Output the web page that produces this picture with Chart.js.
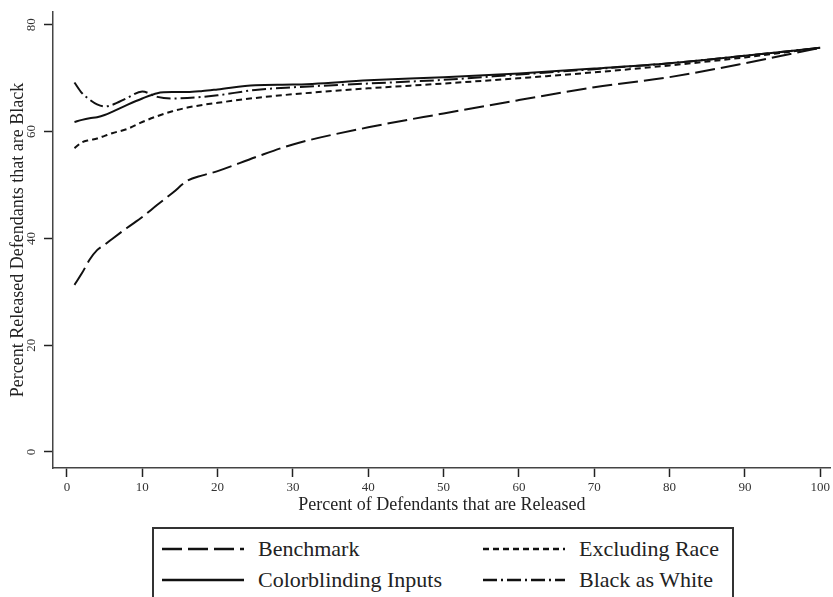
<!DOCTYPE html>
<html>
<head>
<meta charset="utf-8">
<script src="https://cdn.jsdelivr.net/npm/chart.js@4.4.0/dist/chart.umd.min.js"></script>
<style>
  body { margin: 0; background: #fff; font-family: "Liberation Serif", serif; }
  #wrap { position: relative; width: 833px; height: 597px; overflow: hidden; }
  #plot { position: absolute; left: 0; top: 0; width: 833px; height: 520px; }
  #legend {
    position: absolute; left: 152px; top: 527px; width: 582px; height: 90px;
    border: 2px solid #333; box-sizing: border-box;
  }
  .item { position: absolute; height: 28px; display: flex; align-items: center;
    font-size: 22px; color: #222; white-space: nowrap; }
  .item svg { margin-right: 14px; }
</style>
</head>
<body>
<div id="wrap">
  <div id="plot"><canvas id="line-chart"></canvas></div>
  <div id="legend"></div>
</div>
<script>
// percent of defendants released (x) shared by all series
const releasedPct = [1, 2, 3, 4, 5, 6, 8, 10, 12, 14, 16, 18, 20, 25, 30, 40, 50, 60, 70, 80, 90, 100];

const benchmark     = [31.3, 33.5, 36.0, 37.8, 38.8, 39.9, 42.0, 44.0, 46.3, 48.5, 50.8, 51.8, 52.6, 55.2, 57.6, 60.8, 63.4, 65.9, 68.3, 70.2, 72.8, 75.7];
const colorblinding = [61.8, 62.2, 62.5, 62.7, 63.1, 63.7, 65.0, 66.2, 67.2, 67.4, 67.4, 67.6, 67.9, 68.7, 68.8, 69.6, 70.2, 70.9, 71.8, 72.8, 74.2, 75.7];
const excludingRace = [56.9, 58.0, 58.4, 58.7, 59.2, 59.7, 60.5, 61.8, 62.9, 63.8, 64.5, 65.0, 65.4, 66.3, 67.0, 68.1, 69.0, 70.0, 71.1, 72.4, 73.9, 75.7];
const blackAsWhite  = [69.2, 67.2, 66.0, 65.1, 64.7, 65.0, 66.3, 67.5, 66.5, 66.2, 66.3, 66.5, 66.8, 67.8, 68.3, 69.0, 69.7, 70.7, 71.7, 72.8, 74.2, 75.7];

const seriesNames = ["Benchmark", "Colorblinding Inputs", "Excluding Race", "Black as White"];
const seriesDash = [[20, 6], [], [6, 4], [14, 4, 2, 4]];
const seriesValues = [benchmark, colorblinding, excludingRace, blackAsWhite];

const serif = "'Liberation Serif', 'Times New Roman', serif";

const toPoints = (ys) => ys.map((y, i) => ({ x: releasedPct[i], y: y }));

// y tick labels are vertical in the original, chart.js can't rotate them on a y axis
const rotatedYTicks = {
  id: "rotatedYTicks",
  afterDraw(chart) {
    const scale = chart.scales.y;
    const ctx = chart.ctx;
    ctx.save();
    ctx.font = "13px " + serif;
    ctx.fillStyle = "#333";
    ctx.textAlign = "center";
    ctx.textBaseline = "middle";
    scale.ticks.forEach((t) => {
      const py = scale.getPixelForValue(t.value);
      ctx.save();
      ctx.translate(32, py);
      ctx.rotate(-Math.PI / 2);
      ctx.fillText(String(t.value), 0, 0);
      ctx.restore();
    });
    ctx.restore();
  },
};

const contenedorLineChart = document.querySelector("#line-chart").getContext("2d");

const lineChart = new Chart(contenedorLineChart, {
  type: "line",
  data: {
    datasets: seriesNames.map((name, i) => ({
      label: name,
      data: toPoints(seriesValues[i]),
      borderColor: "#111",
      borderWidth: 2,
      borderDash: seriesDash[i],
      pointRadius: 0,
      cubicInterpolationMode: "monotone",
      fill: false,
    })),
  },
  options: {
    responsive: true,
    maintainAspectRatio: false,
    animation: false,
    layout: { padding: { top: 12, right: 0, left: 0, bottom: 0 } },
    plugins: { legend: { display: false }, tooltip: { enabled: false } },
    scales: {
      x: {
        type: "linear",
        min: -1.85,
        max: 101.4,
        ticks: {
          stepSize: 10,
          includeBounds: false,
          padding: 3,
          maxRotation: 0,
          color: "#333",
          font: { family: serif, size: 13 },
        },
        grid: { drawOnChartArea: false, drawTicks: true, tickLength: 9, tickColor: "#222", tickWidth: 1.5 },
        border: { color: "#444", width: 1.5 },
        title: {
          display: true,
          text: "Percent of Defendants that are Released",
          color: "#222",
          font: { family: serif, size: 18 },
          padding: { top: 0, bottom: 4 },
        },
        afterFit(scale) { scale.height = 52; },
      },
      y: {
        type: "linear",
        min: -3,
        max: 82.4,
        ticks: { stepSize: 20, includeBounds: false, display: false },
        grid: { drawOnChartArea: false, drawTicks: true, tickLength: 9, tickColor: "#222", tickWidth: 1.5 },
        border: { color: "#444", width: 1.5 },
        title: {
          display: true,
          text: "Percent Released Defendants that are Black",
          color: "#222",
          font: { family: serif, size: 18 },
          padding: { top: 7, bottom: 0 },
        },
        afterFit(scale) { scale.width = 53; },
      },
    },
  },
  plugins: [rotatedYTicks],
});

// legend box, two columns like the original
const legendBox = document.querySelector("#legend");
const legendSpots = [
  { left: 8, top: 6 },    // Benchmark
  { left: 8, top: 37 },   // Colorblinding Inputs
  { left: 329, top: 6 },  // Excluding Race
  { left: 329, top: 37 }, // Black as White
];
seriesNames.forEach((name, i) => {
  const item = document.createElement("div");
  item.className = "item";
  item.style.left = legendSpots[i].left + "px";
  item.style.top = legendSpots[i].top + "px";
  const dash = seriesDash[i].length ? seriesDash[i].join(" ") : "none";
  item.innerHTML =
    '<svg width="82" height="6"><line x1="0" y1="3" x2="82" y2="3" stroke="#111" stroke-width="2.5" stroke-dasharray="' +
    dash + '"/></svg><span>' + name + "</span>";
  legendBox.appendChild(item);
});
</script>
</body>
</html>
